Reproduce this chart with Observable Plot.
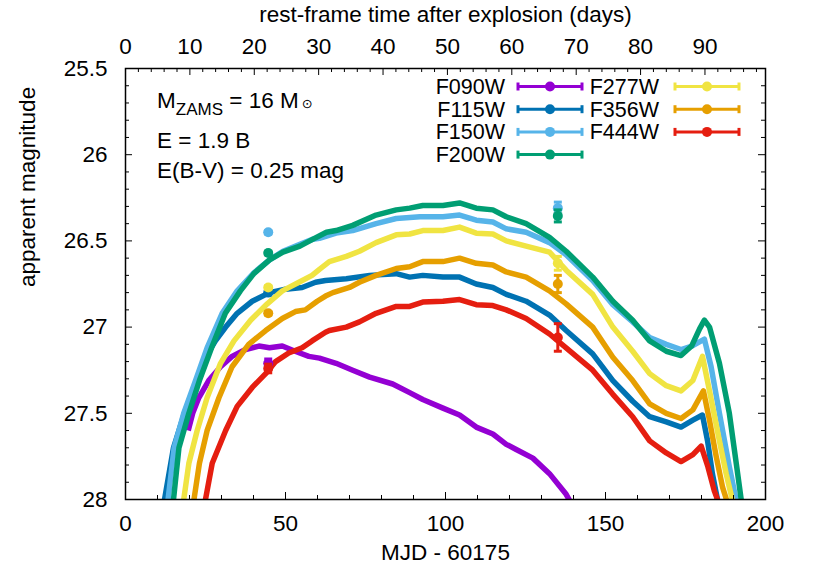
<!DOCTYPE html>
<html>
<head>
<meta charset="utf-8">
<script src="https://cdn.jsdelivr.net/npm/d3@7"></script>
<script src="https://cdn.jsdelivr.net/npm/@observablehq/plot@0.6"></script>
<style>
  html, body { margin: 0; padding: 0; background: #fff; }
  #chart svg { display: block; }
</style>
</head>
<body>
<div id="chart"></div>
<script>
// ---------------- data ----------------
const filters = ["F090W", "F115W", "F150W", "F200W", "F277W", "F356W", "F444W"];
const colors  = ["#9400d3", "#0072b2", "#56b4e9", "#009e73", "#f0e442", "#e69f00", "#e51e10"];

// model light curves: [MJD - 60175, apparent magnitude]
const modelF090W = [[19.6,27.6],[21.0,27.5],[22.9,27.41],[26.0,27.31],[29.7,27.23],[33.3,27.17],[37.5,27.13],[41.7,27.11],[45.0,27.12],[49.0,27.11],[53.0,27.14],[57.3,27.17],[60.6,27.18],[65.8,27.21],[71.0,27.25],[76.3,27.29],[83.5,27.33],[88.8,27.38],[92.9,27.42],[99.2,27.47],[104.4,27.51],[109.6,27.58],[114.8,27.62],[119.0,27.68],[122.1,27.71],[127.3,27.76],[132.5,27.85],[137.7,27.97],[139.5,28.03]];
const modelF115W = [[11.9,28.1],[12.2,28.0],[15.0,27.70],[18.4,27.50],[22.2,27.31],[25.8,27.15],[28.1,27.08],[31.3,27.0],[34.9,26.92],[39.6,26.85],[45.0,26.80],[50.0,26.78],[55.2,26.77],[59.4,26.74],[62.5,26.73],[69.0,26.72],[76.3,26.70],[84.6,26.69],[88.8,26.71],[92.9,26.70],[99.2,26.71],[104.4,26.71],[109.6,26.75],[114.8,26.77],[119.0,26.81],[125.2,26.85],[132.5,26.93],[137.7,27.02],[146.0,27.155],[152.3,27.31],[158.5,27.43],[163.8,27.52],[169.0,27.55],[173.6,27.58],[177.3,27.54],[180.3,27.51],[181.9,27.66],[183.4,27.85],[185.0,28.0],[185.3,28.05]];
const modelF150W = [[12.9,28.1],[13.3,28.0],[15.2,27.70],[18.2,27.50],[21.9,27.31],[25.5,27.12],[30.2,26.92],[34.9,26.79],[40.1,26.685],[45.0,26.61],[49.2,26.56],[54.5,26.52],[58.6,26.49],[60.6,26.485],[65.8,26.455],[71.0,26.44],[78.3,26.40],[84.6,26.37],[92.0,26.36],[99.2,26.36],[104.4,26.35],[109.6,26.38],[114.8,26.39],[119.0,26.43],[125.2,26.45],[132.5,26.51],[137.7,26.58],[146.0,26.73],[152.3,26.87],[158.5,26.97],[163.8,27.06],[169.0,27.10],[173.6,27.13],[177.0,27.11],[180.9,27.07],[183.0,27.23],[185.6,27.50],[188.7,27.81],[190.8,28.0],[191.1,28.05]];
const modelF200W = [[14.6,28.1],[15.0,28.0],[16.7,27.70],[19.8,27.50],[23.1,27.31],[26.9,27.12],[31.2,26.92],[35.9,26.79],[40.1,26.69],[45.0,26.61],[49.2,26.565],[54.5,26.53],[58.6,26.49],[62.8,26.45],[65.8,26.44],[71.0,26.41],[78.3,26.35],[84.6,26.32],[88.8,26.31],[92.9,26.295],[99.2,26.295],[104.4,26.28],[109.6,26.31],[114.8,26.32],[119.0,26.36],[125.2,26.40],[132.5,26.48],[137.7,26.56],[146.0,26.71],[152.3,26.85],[158.5,26.96],[163.8,27.08],[169.0,27.14],[173.6,27.165],[176.9,27.11],[179.4,27.01],[180.9,26.96],[182.5,27.0],[185.6,27.21],[188.7,27.50],[191.0,27.81],[192.4,28.0],[192.6,28.05]];
const modelF277W = [[17.8,28.1],[18.2,28.0],[19.8,27.79],[22.4,27.60],[25.5,27.41],[29.7,27.21],[33.9,27.08],[39.1,26.96],[44.3,26.865],[49.0,26.79],[54.2,26.74],[58.3,26.70],[60.6,26.665],[63.7,26.62],[69.0,26.59],[73.1,26.56],[78.3,26.51],[84.6,26.465],[88.8,26.46],[92.9,26.44],[99.2,26.44],[104.4,26.42],[109.6,26.455],[114.8,26.46],[119.0,26.50],[125.2,26.53],[132.5,26.565],[137.7,26.67],[146.0,26.81],[152.3,27.0],[158.5,27.14],[163.8,27.27],[169.0,27.34],[173.6,27.37],[177.3,27.31],[180.3,27.17],[182.5,27.37],[185.6,27.66],[187.7,27.85],[189.6,28.0],[189.8,28.05]];
const modelF356W = [[21.1,28.1],[21.4,28.0],[23.1,27.79],[25.5,27.60],[29.2,27.41],[33.3,27.23],[38.5,27.10],[43.8,27.02],[49.0,26.95],[53.1,26.91],[56.2,26.90],[59.9,26.85],[62.5,26.82],[64.8,26.80],[70.0,26.77],[73.1,26.74],[78.3,26.70],[84.6,26.66],[88.8,26.65],[92.9,26.62],[99.2,26.62],[104.4,26.60],[109.6,26.63],[114.8,26.64],[119.0,26.68],[125.2,26.71],[132.5,26.79],[137.7,26.865],[146.0,27.0],[152.3,27.175],[158.5,27.31],[163.8,27.445],[169.0,27.50],[173.6,27.53],[177.3,27.48],[180.6,27.37],[182.5,27.54],[184.6,27.75],[186.6,27.93],[187.8,28.0],[188.0,28.05]];
const modelF444W = [[24.8,28.1],[25.0,28.0],[27.1,27.79],[31.3,27.60],[34.9,27.46],[39.6,27.35],[43.8,27.27],[46.9,27.20],[51.0,27.15],[55.2,27.12],[58.3,27.08],[62.5,27.03],[63.7,27.02],[69.0,27.00],[73.1,26.97],[78.3,26.92],[84.6,26.88],[88.8,26.88],[92.9,26.855],[99.2,26.85],[104.4,26.84],[109.6,26.87],[114.8,26.875],[119.0,26.90],[125.2,26.95],[132.5,27.04],[137.7,27.12],[146.0,27.25],[152.3,27.39],[158.5,27.52],[163.8,27.66],[169.0,27.73],[173.6,27.78],[177.3,27.74],[179.9,27.69],[182.0,27.81],[184.0,27.95],[185.0,28.0],[185.2,28.05]];
const models = [modelF090W, modelF115W, modelF150W, modelF200W, modelF277W, modelF356W, modelF444W];

// observed photometry at two epochs (MJD - 60175)
const obsEpochs = [44.6, 135.1];
const obsMag = {
  F090W: [27.21, null], F115W: [26.80, null], F150W: [26.45, 26.31], F200W: [26.57, 26.355],
  F277W: [26.77, 26.63], F356W: [26.92, 26.75], F444W: [27.24, 27.06]
};
const obsErr = {
  F090W: [0.025, null], F115W: [0.01, null], F150W: [0.01, 0.035], F200W: [0.01, 0.035],
  F277W: [0.01, 0.04], F356W: [0.01, 0.05], F444W: [0.025, 0.08]
};

// axes
const xTicks = [0, 50, 100, 150, 200];
const xMinor = [10, 20, 30, 40, 60, 70, 80, 90, 110, 120, 130, 140, 160, 170, 180, 190];
const yTicks = [25.5, 26, 26.5, 27, 27.5, 28];
const yMinor = d3.range(256, 280).filter(v => v % 5 !== 0).map(v => v / 10);
const topTicks = [0, 10, 20, 30, 40, 50, 60, 70, 80, 90];
const topMinor = d3.range(2, 100, 2).filter(v => v % 10 !== 0);
const onePlusZ = 2.012; // observed days per rest-frame day

const annotLines = ["E = 1.9 B", "E(B-V) = 0.25 mag"];

// ---------------- layout ----------------
const W = 817, H = 572;
const mL = 125, mR = 52, mT = 68, mB = 73;
const fw = W - mL - mR, fh = H - mT - mB;
const FONT = "'Liberation Sans', Arial, Helvetica, sans-serif";
const FS = 22.5;
const KEYFS = 21.5;
const TMAJ = 7, TMIN = 4;

const capSymbol = {
  draw(ctx, size) { const r = Math.sqrt(size / Math.PI); ctx.moveTo(-r, 0); ctx.lineTo(r, 0); }
};

const marks = [];
models.forEach((m, i) => {
  marks.push(Plot.line(m, {x: d => d[0], y: d => d[1], stroke: colors[i], strokeWidth: 5.5,
    clip: true, strokeLinejoin: "round", strokeLinecap: "butt"}));
});
filters.forEach((f, i) => {
  const rows = obsEpochs.map((t, k) => ({t, m: obsMag[f][k], e: obsErr[f][k]})).filter(d => d.m != null);
  marks.push(Plot.ruleX(rows, {x: "t", y1: d => d.m - d.e, y2: d => d.m + d.e, stroke: colors[i], strokeWidth: 3}));
  marks.push(Plot.dot(rows, {x: "t", y: d => d.m - d.e, symbol: capSymbol, r: 4, fill: "none", stroke: colors[i], strokeWidth: 3}));
  marks.push(Plot.dot(rows, {x: "t", y: d => d.m + d.e, symbol: capSymbol, r: 4, fill: "none", stroke: colors[i], strokeWidth: 3}));
  marks.push(Plot.dot(rows, {x: "t", y: "m", r: 5, fill: colors[i], stroke: "none"}));
});

// frame and inward ticks
marks.push(Plot.frame({stroke: "black", strokeWidth: 1.5}));
marks.push(Plot.ruleX(xTicks, {x: d => d, insetTop: fh - TMAJ, stroke: "black"}));
marks.push(Plot.ruleX(xMinor, {x: d => d, insetTop: fh - TMIN, stroke: "black"}));
marks.push(Plot.ruleX(topTicks, {x: d => d * onePlusZ, insetBottom: fh - TMAJ, stroke: "black"}));
marks.push(Plot.ruleX(topMinor, {x: d => d * onePlusZ, insetBottom: fh - TMIN, stroke: "black"}));
marks.push(Plot.ruleY(yTicks, {y: d => d, insetRight: fw - TMAJ, stroke: "black"}));
marks.push(Plot.ruleY(yMinor, {y: d => d, insetRight: fw - TMIN, stroke: "black"}));
marks.push(Plot.ruleY(yTicks, {y: d => d, insetLeft: fw - TMAJ, stroke: "black"}));
marks.push(Plot.ruleY(yMinor, {y: d => d, insetLeft: fw - TMIN, stroke: "black"}));

// tick labels
const txt = {fontSize: FS, fill: "black", lineAnchor: "middle"};
marks.push(Plot.text(xTicks, {...txt, x: d => d, text: d => String(d), frameAnchor: "bottom", dy: 24}));
marks.push(Plot.text(topTicks, {...txt, x: d => d * onePlusZ, text: d => String(d), frameAnchor: "top", dy: -22}));
marks.push(Plot.text(yTicks, {...txt, y: d => d, text: d => String(d), frameAnchor: "left", dx: -18, textAnchor: "end"}));
// axis titles
marks.push(Plot.text(["MJD - 60175"], {...txt, text: d => d, frameAnchor: "bottom", dy: 53}));
marks.push(Plot.text(["rest-frame time after explosion (days)"], {...txt, text: d => d, frameAnchor: "top", dy: -54}));
marks.push(Plot.text(["apparent magnitude"], {...txt, text: d => d, frameAnchor: "left", dx: -98, dy: 3, rotate: -90}));

const chart = Plot.plot({
  width: W, height: H,
  marginLeft: mL, marginRight: mR, marginTop: mT, marginBottom: mB,
  x: {domain: [0, 200], axis: null},
  y: {domain: [28, 25.5], axis: null},
  style: {fontFamily: FONT, fontSize: FS + "px", background: "white", color: "black"},
  marks
});
document.getElementById("chart").appendChild(chart);

// ---------------- annotations ----------------
const svg = d3.select(chart);
const ann = svg.append("g").attr("font-family", FONT).attr("font-size", FS)
  .attr("fill", "black").attr("text-anchor", "start");
const ax = mL + 32;
const t1 = ann.append("text").attr("x", ax).attr("y", 108);
t1.append("tspan").text("M");
t1.append("tspan").attr("font-size", 17).attr("dy", 6.5).text("ZAMS");
t1.append("tspan").attr("dy", -6.5).text(" = 16 M");
t1.append("tspan").attr("font-size", 13).attr("dx", 3).attr("font-family", "'DejaVu Sans', sans-serif").text("\u2299");
ann.append("text").attr("x", ax).attr("y", 147.5).text(annotLines[0]);
ann.append("text").attr("x", ax).attr("y", 177.5).text(annotLines[1]);

// ---------------- legend (key) ----------------
const key = svg.append("g").attr("font-family", FONT).attr("font-size", KEYFS);
const colText = [505, 659], colL1 = [518, 675], colL2 = [582, 739];
filters.forEach((f, i) => {
  const col = i < 4 ? 0 : 1, row = i < 4 ? i : i - 4;
  const y = 86.5 + 22.7 * row;
  key.append("text").attr("x", colText[col]).attr("y", y).attr("dy", "0.35em")
    .attr("text-anchor", "end").attr("fill", "black").text(f);
  const g = key.append("g").attr("stroke", colors[i]).attr("stroke-width", 3);
  g.append("line").attr("x1", colL1[col]).attr("x2", colL2[col]).attr("y1", y).attr("y2", y);
  g.append("line").attr("x1", colL1[col]).attr("x2", colL1[col]).attr("y1", y - 4).attr("y2", y + 4);
  g.append("line").attr("x1", colL2[col]).attr("x2", colL2[col]).attr("y1", y - 4).attr("y2", y + 4);
  key.append("circle").attr("cx", (colL1[col] + colL2[col]) / 2).attr("cy", y).attr("r", 5).attr("fill", colors[i]);
});
</script>
</body>
</html>
